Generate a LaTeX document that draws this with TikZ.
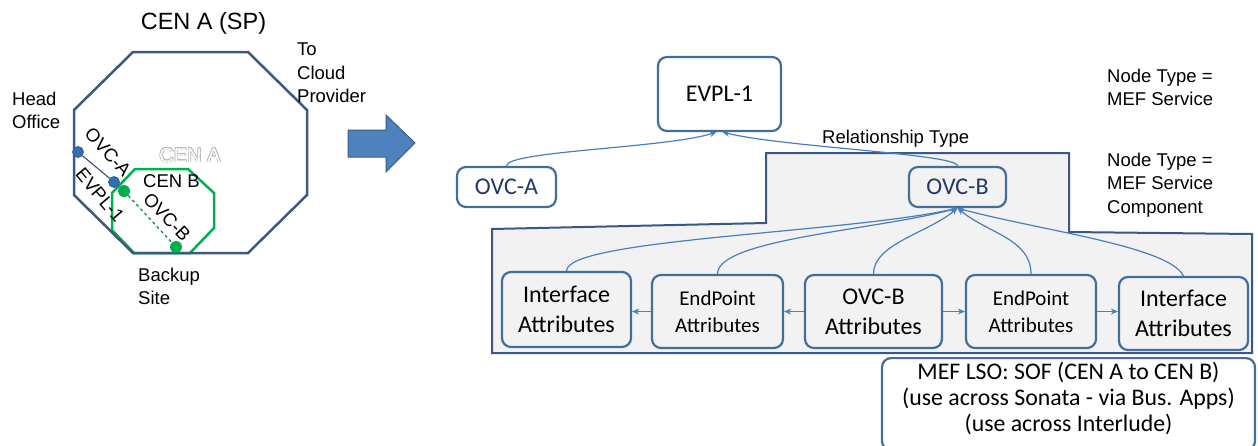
\documentclass[tikz,border=0pt]{standalone}
\usepackage{fontspec}
\setmainfont{Liberation Sans}
\newfontfamily\boxfont{Carlito}
\usetikzlibrary{arrows.meta}
\definecolor{cenline}{RGB}{62,88,128}
\definecolor{cengreen}{RGB}{0,176,80}
\definecolor{boxline}{RGB}{65,110,155}
\definecolor{panelline}{RGB}{58,88,132}
\definecolor{relline}{RGB}{74,126,190}
\definecolor{navytext}{RGB}{31,56,100}
\definecolor{panel}{RGB}{242,242,242}
\definecolor{bigarrow}{RGB}{79,129,189}
\definecolor{bigarrowline}{RGB}{56,93,138}
\definecolor{dotblue}{RGB}{46,112,182}
\newcommand\bigtxt{\boxfont\fontsize{24}{30}\selectfont}
\newcommand\smalltxt{\boxfont\fontsize{21}{27}\selectfont}
\newcommand\notetxt{\fontsize{18.5}{23.2}\selectfont}
\tikzset{
	objbox/.style={draw=boxline, line width=2.2pt, rounded corners=9pt, inner sep=0pt, align=center},
	rel/.style={draw=relline, line width=1.2pt, -{Stealth[length=7pt,width=6pt]}},
	note/.style={inner sep=0pt, align=left, font=\notetxt},
	bluedot/.style={circle, fill=dotblue, draw=cenline, line width=0.8pt, minimum size=11pt, inner sep=0pt},
	greendot/.style={circle, fill=cengreen, minimum size=12pt, inner sep=0pt},
	hollow/.style={font=\fontsize{20}{24}\selectfont, anchor=base, inner sep=0pt},
}

\begin{document}
\begin{tikzpicture}[x=1pt, y=-1pt]
			%%%%% START %%%%%
			\useasboundingbox (0,0) rectangle (1258,445);
			\clip (0,0) rectangle (1258,445);
			
			% the two networks
			\draw[cengreen, line width=2.5pt] (135,169) -- (188,169) -- (214,193) -- (214,228) -- (190,253) -- (134,253) -- (112,230) -- (112,193) -- cycle;
			\draw[cenline, line width=2.5pt] (133,52) -- (248,52) -- (307,110) -- (307,195) -- (248,253) -- (133,253) -- (74,195) -- (74,110) -- cycle;
			
			\node[bluedot] (hodot) at (78,152) {};
			\node[bluedot] (cenadot) at (114,182) {};
			\node[greendot] (cenbdot) at (124,191) {};
			\node[greendot] (bkdot) at (176,247) {};
			\draw[cenline, line width=1.2pt] (hodot) -- (cenadot);
			\draw[cengreen!75!black, dashed, line width=1.2pt] (cenbdot) -- (bkdot);
			
			\node[font=\fontsize{23.5}{28}\selectfont, anchor=base] (cenasp) at (203.5,29) {CEN A (SP)};
			\node[note, anchor=north west] (cloud) at (297,43) {To\\Cloud\\Provider};
			\node[note, anchor=north west] (head) at (12,92) {Head\\Office};
			\node[note, anchor=north west] (backup) at (138,268) {Backup\\Site};
			% outlined label
			\foreach \a in {0,30,...,330}
				\node[hollow, text=gray!55, shift={(\a:0.7)}] (cenout\a) at (190,162) {CEN A};
			\node[hollow, text=white] (cenalbl) at (190,162) {CEN A};
			\node[font=\notetxt, anchor=base west, inner sep=0pt] (cenblbl) at (143,187) {CEN B};
			\node[font=\notetxt, rotate=-48] (ovcalbl) at (108,152) {OVC-A};
			\node[font=\notetxt, rotate=-50] (evpllbl) at (100,195) {EVPL-1};
			\node[font=\notetxt, rotate=-46] (ovcblbl) at (167,217) {OVC-B};
			
			% big arrow
			\draw[fill=bigarrow, draw=bigarrowline, line width=1pt] (348,130) -- (386,130) -- (386,115) -- (415,143) -- (386,172) -- (386,157) -- (348,157) -- cycle;
			
			% component panel
			\draw[panelline, line width=2pt, fill=panel] (766,153) -- (1069,153) -- (1069,232) -- (1252,234) -- (1252,353) -- (492,353) -- (492,229) -- (766,223) -- cycle;
			
			\node[objbox, minimum width=123pt, minimum height=74pt, font=\bigtxt] (evpl) at (719.5,94) {EVPL-1};
			\node[objbox, minimum width=99pt, minimum height=40pt, font=\bigtxt, text=navytext] (ovca) at (506.5,187) {OVC-A};
			\node[objbox, minimum width=97pt, minimum height=40pt, font=\bigtxt, text=navytext] (ovcb) at (957.5,187) {OVC-B};
			
			\node[objbox, minimum width=129pt, minimum height=75pt, font=\bigtxt] (intfa) at (566.5,309.5) {Interface\\Attributes};
			\node[objbox, minimum width=131pt, minimum height=73pt, font=\smalltxt] (endpta) at (717.5,311.5) {EndPoint\\Attributes};
			\node[objbox, minimum width=137pt, minimum height=73pt, font=\bigtxt] (ovcbattr) at (873.5,311.5) {OVC-B\\Attributes};
			\node[objbox, minimum width=130pt, minimum height=73pt, font=\smalltxt] (endptb) at (1031,311.5) {EndPoint\\Attributes};
			\node[objbox, minimum width=129pt, minimum height=73pt, font=\bigtxt] (intfb) at (1183.5,313.5) {Interface\\Attributes};
			
			\node[objbox, fill=white, inner sep=3.5pt, anchor=north] (lso) at (1068.5,357) {\parbox[t][85pt][t]{366pt}{\centering\boxfont\fontsize{23.8}{26}\selectfont MEF LSO: SOF (CEN A to CEN B)\\(use across Sonata - via Bus. Apps)\\(use across Interlude)}};
			
			\node[note, anchor=base west] (reltype) at (822,143) {Relationship Type};
			\node[note, anchor=north west] (svctype) at (1107,69) {Node Type =\\MEF Service};
			\node[note, anchor=north west] (comptype) at (1107,153) {Node Type =\\MEF Service\\Component};
			
			% relationships
			\draw[rel] (ovca.north) .. controls +(0,-15) and +(-50,16) .. ([xshift=-3pt]evpl.south);
			\draw[rel] (ovcb.north) .. controls +(0,-12) and +(60,15) .. ([xshift=3pt]evpl.south);
			
			\draw[rel] (intfa.north) .. controls +(0,-32) and +(-110,25) .. (ovcb.south);
			\draw[rel] (endpta.north) .. controls +(0,-35) and +(-80,22) .. (ovcb.south);
			\draw[rel] (ovcbattr.north) .. controls +(0,-30) and +(-30,25) .. (ovcb.south);
			\draw[rel] (endptb.north) .. controls +(0,-35) and +(30,25) .. (ovcb.south);
			\draw[rel] (intfb.north) .. controls +(-15,-30) and +(80,22) .. (ovcb.south);
			
			\draw[rel] (ovcbattr.west) -- (endpta.east);
			\draw[rel] (endpta.west) -- (endpta.west -| intfa.east);
			\draw[rel] (ovcbattr.east) -- (endptb.west);
			\draw[rel] (endptb.east) -- (endptb.east -| intfb.west);
			%%%%% END %%%%%
\end{tikzpicture}
\end{document}
